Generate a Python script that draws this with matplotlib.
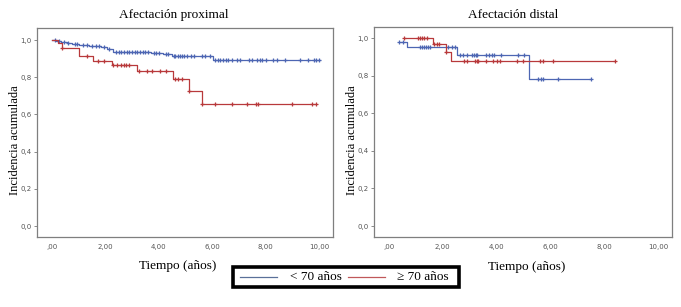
import numpy as np
import matplotlib.pyplot as plt
from matplotlib.patches import Rectangle

# Afectacion proximal, < 70 anos (blue)
prox_young_t = [0, 0.15, 0.35, 0.55, 0.75, 1.0, 1.4, 1.85, 2.05, 2.3, 3.7, 4.15, 4.48, 6.04]
prox_young_s = [1.0, 0.995, 0.99, 0.985, 0.978, 0.972, 0.968, 0.962, 0.95, 0.934, 0.93, 0.925, 0.917, 0.892]
prox_young_end = 10.04
prox_young_cens = [0.1, 0.25, 0.45, 0.6, 0.85, 0.95, 1.15, 1.3, 1.5, 1.65, 1.75, 1.95, 2.15, 2.4,
                   2.5, 2.6, 2.7, 2.8, 2.9, 3.0, 3.1, 3.2, 3.3, 3.4, 3.5, 3.6, 3.8, 3.9, 4.0,
                   4.25, 4.35, 4.55, 4.62, 4.7, 4.78, 4.85, 4.95, 5.05, 5.2, 5.3, 5.6, 5.73,
                   5.92, 6.1, 6.2, 6.3, 6.4, 6.5, 6.6, 6.73, 6.92, 7.04, 7.39, 7.48, 7.67,
                   7.77, 7.86, 8.01, 8.29, 8.42, 8.73, 9.29, 9.6, 9.79, 9.89, 10.01]

# Afectacion proximal, >= 70 anos (red)
prox_old_t = [0, 0.24, 0.36, 1.02, 1.52, 2.24, 3.17, 4.52, 5.13, 5.61]
prox_old_s = [1.0, 0.985, 0.96, 0.914, 0.889, 0.866, 0.833, 0.789, 0.727, 0.656]
prox_old_end = 9.87
prox_old_cens = [0.36, 1.31, 1.73, 1.95, 2.3, 2.45, 2.58, 2.68, 2.78, 2.88, 3.27, 3.55,
                 3.73, 4.04, 4.26, 4.61, 4.73, 4.86, 5.13, 5.61, 6.1, 6.73, 7.31, 7.64,
                 7.73, 8.98, 9.73, 9.87]

# Afectacion distal, < 70 anos (blue)
dist_young_t = [0.38, 0.66, 2.52, 5.22]
dist_young_s = [0.977, 0.954, 0.91, 0.78]
dist_young_end = 7.51
dist_young_cens = [0.38, 0.51, 1.15, 1.23, 1.3, 1.38, 1.46, 1.52, 2.2, 2.33, 2.45, 2.65,
                   2.74, 2.91, 3.1, 3.16, 3.23, 3.28, 3.61, 3.73, 3.82, 3.9, 4.15, 4.81,
                   5.0, 5.55, 5.64, 5.71, 6.29, 7.51]

# Afectacion distal, >= 70 anos (red)
dist_old_t = [0.57, 1.62, 2.12, 2.29]
dist_old_s = [1.0, 0.966, 0.927, 0.879]
dist_old_end = 8.4
dist_old_cens = [0.57, 1.07, 1.15, 1.24, 1.31, 1.4, 1.67, 1.77, 1.87, 2.12, 2.8, 2.89,
                 3.2, 3.26, 3.32, 3.61, 3.85, 4.0, 4.13, 4.75, 4.97, 5.61, 5.71, 6.11, 8.4]

x_ticks = [0, 2, 4, 6, 8, 10]
x_labels = [',00', '2,00', '4,00', '6,00', '8,00', '10,00']
y_ticks = [0, 0.2, 0.4, 0.6, 0.8, 1.0]
y_labels = ['0,0', '0,2', '0,4', '0,6', '0,8', '1,0']

BLUE = '#4d66b3'
RED = '#b8393b'
SERIF = 'Liberation Serif'


def km_curve(ax, t, s, end, cens, color):
    t = np.array(t)
    s = np.array(s)
    xs = np.append(t, end)
    ys = np.append(s, s[-1])
    ax.step(xs, ys, where='post', color=color, lw=0.9)
    c = np.array(cens)
    idx = np.searchsorted(t, c, side='right') - 1
    ax.plot(c, s[idx], ls='none', marker='+', ms=3.4, mew=0.9, color=color)


def style_axes(ax, xlim, ylim):
    ax.set_xlim(*xlim)
    ax.set_ylim(*ylim)
    ax.set_xticks(x_ticks)
    ax.set_xticklabels(x_labels)
    ax.set_yticks(y_ticks)
    ax.set_yticklabels(y_labels)
    ax.tick_params(axis='x', length=0, pad=5, labelsize=5, labelcolor='#555555')
    ax.tick_params(axis='y', length=2.5, width=0.6, color='#777777', pad=1.5,
                   labelsize=5, labelcolor='#555555')
    for sp in ax.spines.values():
        sp.set_color('#7f7f7f')
        sp.set_linewidth(0.9)


fig = plt.figure(figsize=(6.81, 3.07), dpi=100)

ax1 = fig.add_axes([37 / 681, 1 - 237 / 307, 296 / 681, 209 / 307])
km_curve(ax1, prox_young_t, prox_young_s, prox_young_end, prox_young_cens, BLUE)
km_curve(ax1, prox_old_t, prox_old_s, prox_old_end, prox_old_cens, RED)
style_axes(ax1, (-0.562, 10.52), (-0.059, 1.065))

ax2 = fig.add_axes([374 / 681, 1 - 237 / 307, 298 / 681, 210 / 307])
km_curve(ax2, dist_young_t, dist_young_s, dist_young_end, dist_young_cens, BLUE)
km_curve(ax2, dist_old_t, dist_old_s, dist_old_end, dist_old_cens, RED)
style_axes(ax2, (-0.558, 10.52), (-0.0585, 1.059))

# titles and axis labels
fig.text(174 / 681, 1 - 15 / 307, 'Afectación proximal', family=SERIF, fontsize=9.5,
         ha='center', va='center')
fig.text(513 / 681, 1 - 15 / 307, 'Afectación distal', family=SERIF, fontsize=9.5,
         ha='center', va='center')
fig.text(178 / 681, 1 - 266 / 307, 'Tiempo (años)', family=SERIF, fontsize=9.5,
         ha='center', va='center')
fig.text(527 / 681, 1 - 267 / 307, 'Tiempo (años)', family=SERIF, fontsize=9.5,
         ha='center', va='center')
fig.text(15 / 681, 1 - 140 / 307, 'Incidencia acumulada', family=SERIF, fontsize=9,
         ha='center', va='center', rotation=90)
fig.text(352 / 681, 1 - 140 / 307, 'Incidencia acumulada', family=SERIF, fontsize=9,
         ha='center', va='center', rotation=90)

# legend box
lg = fig.add_axes([233 / 681, 1 - 287 / 307, 226 / 681, 20 / 307])
lg.set_xlim(0, 226)
lg.set_ylim(0, 20)
lg.axis('off')
lg.add_patch(Rectangle((0, 0), 226, 20, fill=False, ec='black', lw=2.6, clip_on=False))
lg.plot([7, 44], [10, 10], color='#5a7099', lw=0.9)
lg.text(57, 9.5, '< 70 años', family=SERIF, fontsize=9.5, ha='left', va='center')
lg.plot([115, 152], [10, 10], color='#c0585a', lw=0.9)
lg.text(164, 9.5, '≥ 70 años', family=SERIF, fontsize=9.5, ha='left', va='center')

fig.savefig('out.png', dpi=100)
